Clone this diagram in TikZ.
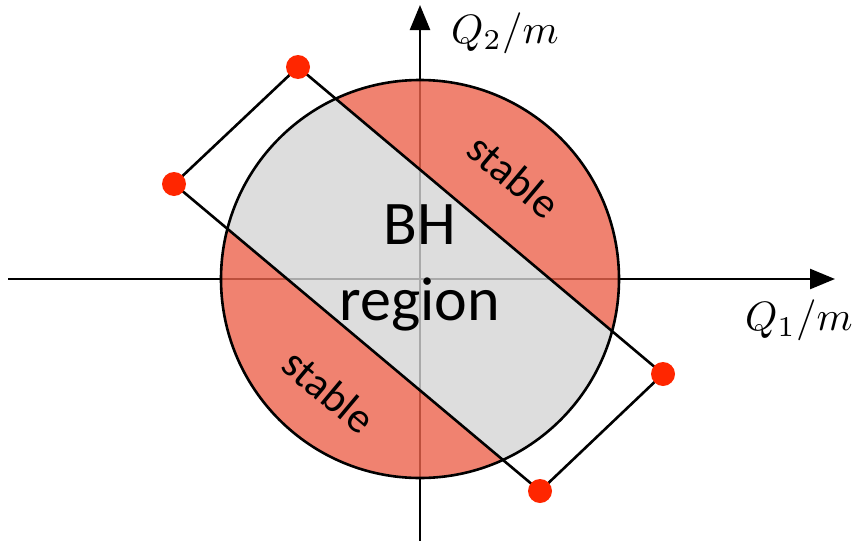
\documentclass[tikz,border=0pt]{standalone}
\usepackage{fontspec}
\setmainfont{Carlito}
\usetikzlibrary{arrows.meta}
\definecolor{stabred}{RGB}{236,99,76}
\definecolor{bhgray}{RGB}{212,212,212}
\definecolor{dotred}{RGB}{255,38,0}
\tikzset{
  axis/.style={line width=2.5pt,-{Triangle[length=25pt,width=20pt]}},
  bandline/.style={line width=2.6pt},
  corner/.style={circle,fill=dotred,inner sep=0pt,minimum size=24pt},
  alab/.style={inner sep=0pt,anchor=west},
  slab/.style={font=\fontsize{43}{43}\selectfont,rotate=-40},
  blab/.style={font=\fontsize{62}{76}\selectfont,align=center}
}
\begin{document}
\begin{tikzpicture}[x=1pt,y=-1pt]
    \useasboundingbox (0,0) rectangle (860,541);
    \coordinate (o) at (420,279);
    \coordinate (xl) at (8,279); \coordinate (xr) at (835,279);
    \coordinate (yb) at (420,541); \coordinate (yt) at (420,5);
    \coordinate (c1) at (298,67); \coordinate (c2) at (663,374);
    \coordinate (c3) at (540,491); \coordinate (c4) at (174,184);
    % axes first, the disc is see-through
    \draw[axis] (xl)--(xr); \draw[axis] (yb)--(yt);
    \node[alab] (q1) at (745,320) {\scalebox{4.1}{$Q_1/m$}};
    \node[alab] (q2) at (451,33) {\scalebox{4.1}{$Q_2/m$}};
    \begin{scope}
      \clip (o) circle[radius=199pt];
      \fill[stabred,fill opacity=0.8,even odd rule] (o) circle[radius=199pt] (c1)--(c2)--(c3)--(c4)--cycle;
      \clip (c1)--(c2)--(c3)--(c4)--cycle;
      \fill[bhgray,fill opacity=0.8] (o) circle[radius=199pt];
    \end{scope}
    \draw[line width=2.6pt] (o) circle[radius=199pt];
    \draw[bandline] (c1)--(c2)--(c3)--(c4)--cycle;
    \foreach \c in {c1,c2,c3,c4} \node[corner] (d\c) at (\c) {};
    \node[blab] (bh) at (420,268) {BH\\region};
    \node[slab] (s1) at (514,176) {stable};
    \node[slab] (s2) at (329,391) {stable};
  \end{tikzpicture}
\end{document}
